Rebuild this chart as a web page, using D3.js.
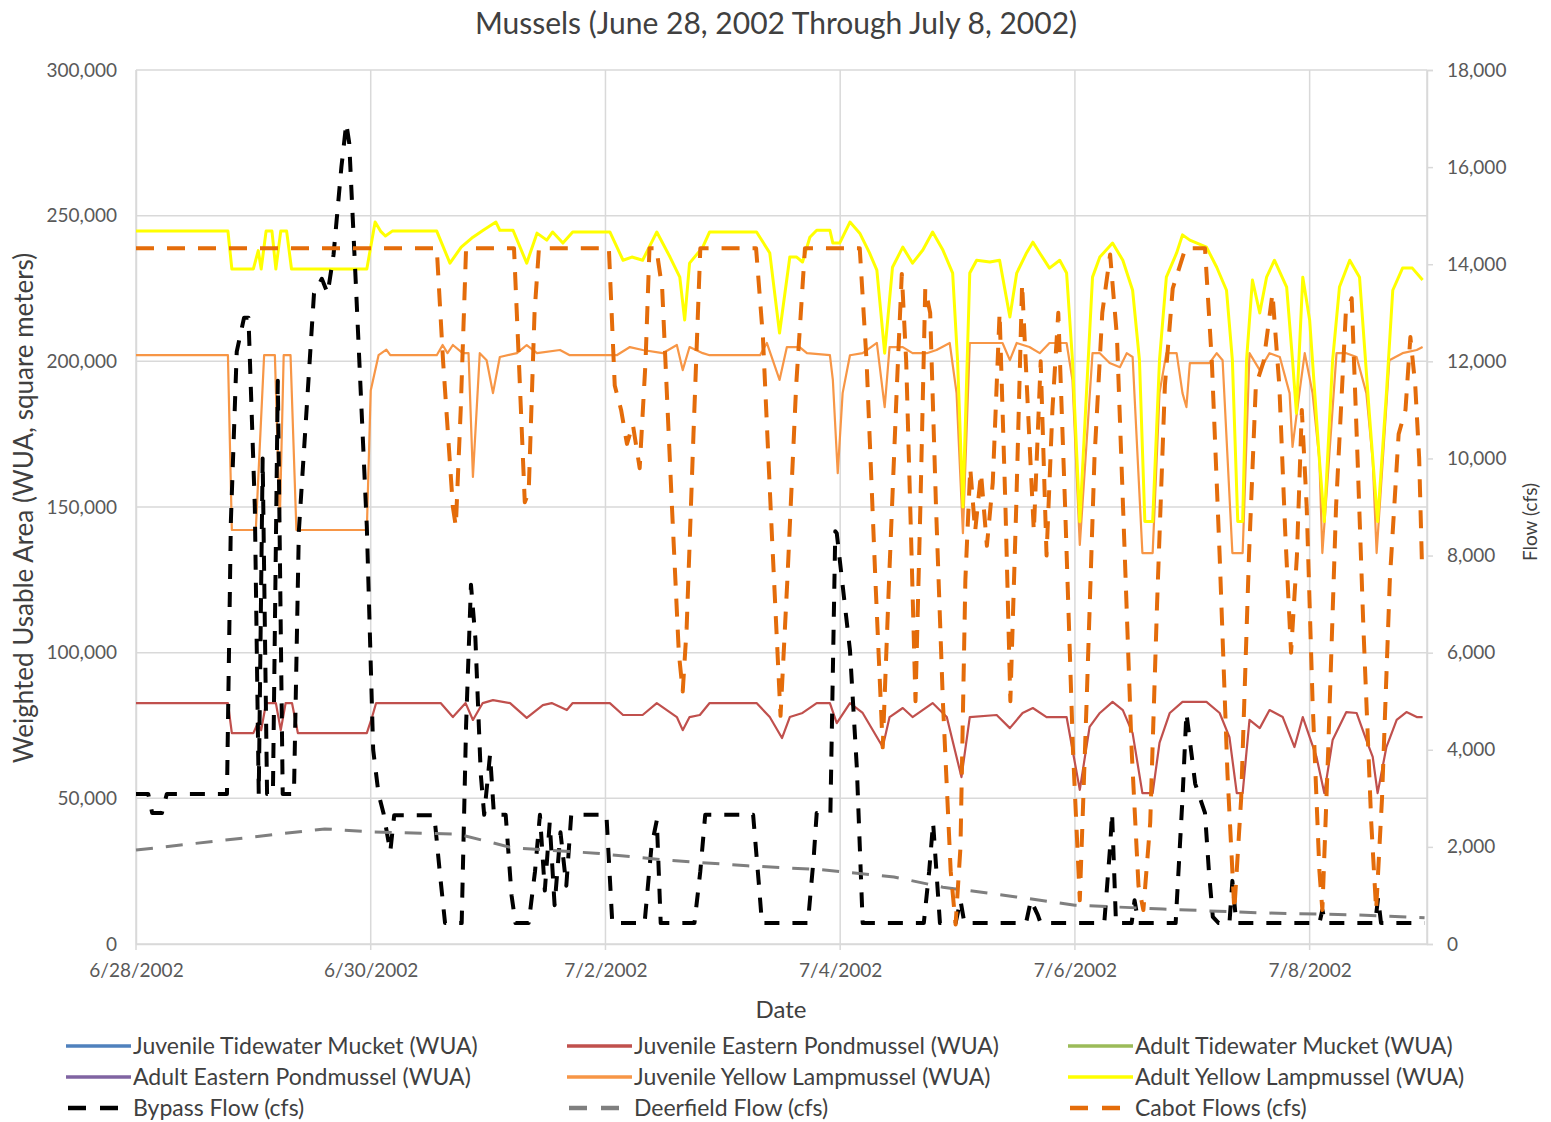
<!DOCTYPE html>
<html>
<head>
<meta charset="utf-8">
<script src="https://cdn.jsdelivr.net/npm/d3@7"></script>
<style>
  body { margin: 0; background: #fff; }
  text { font-family: Lato, "Open Sans", sans-serif; }
</style>
</head>
<body>
<div id="chart"></div>
<script>
// every series: [hours since 6/28/2002 00:00, value]
const adultYellowWUA = [[0,244700],[18.8,244700],[19.6,231700],[24.0,231700],[25.0,238000],[25.6,231700],[26.6,244700],[27.8,244700],[28.6,231700],[29.6,244700],[30.8,244700],[31.8,231700],[47.2,231700],[48.9,247800],[50.0,244700],[51.0,243000],[52.4,244700],[61.5,244700],[64.2,233700],[66.5,239200],[68.9,242600],[71.0,245000],[73.6,247800],[74.4,245000],[77.1,245000],[79.9,233700],[82.0,244000],[84.0,241600],[85.2,244400],[87.3,240600],[89.3,244400],[96.9,244400],[99.6,234700],[101.4,235800],[103.6,234700],[106.5,244400],[109.2,235800],[111.2,228900],[112.2,214200],[113.2,233700],[115.9,239200],[117.3,244400],[126.9,244400],[129.6,237200],[131.6,209700],[133.7,235800],[135.1,235800],[136.3,234100],[137.8,242600],[139.2,245000],[141.9,245000],[142.5,240600],[143.9,240600],[146.0,247800],[148.0,244000],[150.0,237200],[151.5,231300],[153.1,202800],[154.7,232300],[156.8,239200],[158.8,233700],[160.9,238200],[162.9,244400],[165.0,238200],[167.0,230300],[168.0,200400],[169.1,150000],[170.5,230300],[171.9,234700],[174.6,234100],[176.6,234700],[178.7,215200],[180.1,230300],[182.1,237200],[183.4,240900],[184.8,237200],[186.8,232000],[188.9,234700],[190.3,230300],[191.5,200400],[193.0,145000],[195.6,228900],[197.1,235800],[199.7,240600],[201.8,234700],[203.8,224400],[205.2,200400],[206.3,145000],[207.9,145000],[209.3,200400],[210.7,228900],[212.8,237200],[214.0,243400],[215.5,241600],[218.9,239200],[221.0,232300],[223.0,224400],[224.2,200400],[225.3,145000],[226.3,145000],[227.1,200400],[228.3,227900],[229.8,216600],[231.2,228900],[232.8,234700],[235.3,225500],[236.5,200400],[237.3,182200],[238.6,228900],[240.0,214200],[242.0,166100],[243.0,145000],[244.7,200400],[246.1,225500],[248.2,234700],[250.2,228900],[252.2,182200],[253.9,145000],[255.7,189000],[257.0,224400],[259.0,232000],[261.0,232000],[263.1,227900]];

const juvYellowWUA = [[0,202100],[18.8,202100],[19.6,142100],[24.5,142100],[26.2,202100],[28.4,202100],[29.4,145000],[30.2,202100],[31.6,202100],[32.8,142100],[47.2,142100],[48.0,190000],[49.6,202100],[51.2,204000],[52.0,202100],[61.5,202100],[62.7,205600],[63.7,202800],[64.8,205600],[66.8,202800],[68.0,202800],[68.9,160300],[70.3,202800],[71.7,200400],[73.0,189100],[74.4,201500],[77.9,202800],[79.9,205600],[82.0,202800],[86.7,203900],[88.7,202100],[98.3,202100],[101.0,204900],[103.6,203900],[107.7,202800],[110.6,205600],[111.8,197000],[113.2,204900],[115.9,202800],[117.3,202100],[127.6,202100],[129.0,206300],[131.6,193600],[133.1,204900],[135.7,204900],[137.2,202800],[141.9,202100],[142.5,193600],[143.5,161600],[144.5,189100],[146.0,202100],[148.6,202800],[151.5,206300],[153.1,184300],[154.1,204900],[156.8,204900],[158.8,202800],[161.7,202800],[163.7,203900],[166.4,206300],[167.8,189100],[169.1,141000],[170.5,206300],[177.2,206300],[178.7,200400],[180.1,206300],[182.7,204900],[184.8,202800],[186.8,206300],[190.3,206300],[191.5,193600],[193.0,137000],[195.6,202800],[197.1,202800],[199.1,199400],[201.2,198000],[202.6,202800],[203.8,201500],[205.8,134200],[207.9,134200],[209.3,189100],[210.7,202800],[212.8,202800],[214.0,189100],[214.8,184300],[215.5,199400],[219.5,199400],[221.0,202800],[222.2,200400],[224.2,134200],[226.3,134200],[227.7,202800],[229.8,197000],[231.8,202800],[233.9,201500],[235.9,189100],[236.5,170600],[237.9,189100],[239.0,202800],[240.6,189100],[242.0,166100],[242.6,134200],[245.5,202800],[247.5,202800],[249.6,201500],[251.6,189100],[252.9,166100],[253.7,134200],[256.3,200400],[259.0,202800],[261.9,203900],[263.1,204900]];

const juvEasternWUA = [[0,82700],[18.8,82700],[19.6,72400],[24.0,72400],[24.9,75800],[25.6,73400],[26.6,82700],[28.6,82700],[29.6,73400],[30.6,82700],[31.9,82700],[33.1,72400],[47.2,72400],[48.3,78000],[49.1,82700],[62.3,82700],[64.8,77900],[67.4,82700],[68.9,76900],[70.9,82700],[73.0,83700],[76.5,82700],[79.9,77600],[83.2,82000],[85.0,82700],[88.1,80300],[89.3,82700],[96.9,82700],[99.6,78600],[103.6,78600],[106.5,82700],[110.6,77900],[111.8,73400],[113.2,77900],[115.3,78600],[117.3,82700],[126.9,82700],[129.6,77900],[132.1,70700],[133.7,77900],[136.3,79300],[139.2,82700],[141.9,82700],[143.3,75800],[146.0,82700],[148.6,79300],[152.7,67600],[154.1,77900],[156.8,81000],[158.8,77900],[162.9,82700],[165.8,77900],[168.8,57300],[170.5,77900],[176.0,78600],[178.7,74100],[181.3,79300],[183.4,81000],[186.2,77900],[190.3,77900],[193.0,52900],[195.0,74500],[197.1,79300],[199.7,83100],[201.8,80300],[203.8,72400],[205.8,51800],[207.9,51800],[209.3,69000],[211.4,79300],[214.0,83100],[218.9,83100],[221.6,79300],[223.6,71000],[225.1,51800],[226.3,51800],[227.7,76900],[229.8,74100],[231.8,80300],[234.5,77900],[236.9,67600],[238.6,77900],[241.4,64200],[243.0,51800],[244.7,70000],[247.5,79600],[249.6,79300],[251.6,70000],[252.9,64200],[253.9,51800],[255.7,67600],[257.8,76900],[259.8,79600],[261.9,77900],[263.1,77900]];

const bypassFlow = [[0,3090],[2.5,3090],[3.3,2700],[5.3,2700],[6.3,3090],[18.6,3090],[19.4,8700],[20.6,12200],[22.1,12900],[23.0,12900],[24.3,9000],[25.1,3090],[25.9,10000],[26.8,3090],[28.0,3090],[29.0,11600],[30.0,3090],[32.3,3090],[33.3,8500],[36.4,13400],[38.0,13700],[39.2,13400],[40.4,14200],[42.0,16000],[43.0,16900],[43.6,16500],[45.0,13500],[47.2,8600],[48.5,4000],[49.6,3090],[50.6,2700],[52.0,1900],[52.8,2650],[61.0,2650],[62.1,1500],[63.2,430],[66.6,430],[67.5,4500],[68.5,7400],[69.4,6300],[70.5,3500],[71.2,2660],[72.4,3900],[73.2,2660],[75.6,2660],[76.8,1000],[77.6,430],[80.3,430],[81.6,1500],[82.6,2660],[83.6,1100],[84.6,2500],[85.6,800],[86.8,2300],[88.0,1200],[89.0,2660],[96.2,2660],[97.4,430],[104.0,430],[105.4,2000],[106.5,2550],[107.3,430],[114.2,430],[115.4,1500],[116.4,2660],[126.2,2660],[127.4,1200],[128.0,430],[137.4,430],[138.6,1800],[139.2,2700],[142.0,2700],[143.0,8500],[143.3,8460],[146.0,6050],[147.4,3640],[148.6,430],[161.1,430],[162.2,1500],[163.0,2500],[164.4,430],[167.6,430],[168.6,900],[169.4,430],[182.0,430],[183.0,900],[184.4,600],[185.0,430],[198.0,430],[199.2,2000],[199.6,2700],[200.4,430],[203.6,430],[204.2,900],[205.0,430],[212.6,430],[214.0,3000],[214.8,4760],[216.6,3300],[218.6,2700],[219.4,1500],[220.2,560],[221.4,430],[223.6,430],[224.2,1300],[225.0,430],[242.0,430],[242.6,700],[243.2,430],[253.4,430],[254.0,950],[254.6,430],[263.5,430]];

const deerfieldFlow = [[0,1935],[38.6,2370],[48,2310],[66,2260],[77,1980],[94,1870],[108,1730],[125,1610],[140,1530],[155,1380],[165,1170],[180,970],[192,800],[210,720],[230,640],[250,600],[263.5,540]];

const cabotFlows = [[0,14330],[61.5,14330],[62.8,12000],[64.8,9000],[65.4,8600],[66.4,11000],[67.5,14330],[77.3,14330],[78.3,12000],[79.5,9100],[80.3,9300],[81.5,13000],[82.4,14330],[96.7,14330],[97.9,11500],[99.2,11000],[100.4,10300],[101.6,10700],[103.0,9800],[104.2,12000],[105.0,14330],[106.4,14330],[107.6,13500],[109.6,9000],[111.0,6000],[111.8,5200],[112.6,6500],[114.0,10500],[115.4,14330],[126.8,14330],[128.2,12500],[130.0,8500],[131.8,4700],[133.2,7500],[135.0,11500],[136.8,14330],[148.0,14330],[149.4,12000],[151.2,7500],[152.7,4050],[154.0,7500],[155.6,11500],[156.6,13800],[157.5,12000],[158.6,8000],[159.4,5000],[160.4,9000],[161.4,13500],[162.4,13000],[163.6,9000],[165.0,5000],[166.6,1500],[167.6,400],[168.6,2000],[169.6,7500],[170.6,9800],[171.6,8500],[172.8,9700],[174.0,8200],[175.2,9500],[176.6,13000],[177.8,9000],[178.8,5000],[180.0,9000],[181.2,13600],[182.4,11000],[183.6,8500],[185.0,12000],[186.2,8000],[187.4,11000],[188.6,13000],[190.0,9000],[191.6,4000],[193.0,900],[194.4,5000],[196.0,10000],[197.6,13000],[199.2,14200],[200.6,12500],[202.2,8000],[203.6,4000],[205.0,1200],[206.0,700],[207.4,2500],[208.8,7000],[210.4,11500],[212.0,13500],[214.6,14330],[218.6,14330],[220.0,12000],[221.6,8000],[223.2,3500],[224.6,700],[226.0,3000],[227.6,8000],[229.0,11500],[230.6,12000],[232.4,13400],[233.8,11500],[235.0,8500],[236.2,6000],[237.4,8000],[238.4,11000],[239.4,9000],[240.6,5000],[242.0,1500],[242.6,700],[243.8,4000],[245.4,9000],[247.4,13000],[248.6,13300],[249.8,10000],[251.0,6500],[252.6,2500],[253.6,700],[254.8,3000],[256.4,7500],[258.2,10500],[259.6,11000],[260.6,12500],[261.6,11500],[262.4,10000],[263.0,7700]];

const dateTicks = ["6/28/2002", "6/30/2002", "7/2/2002", "7/4/2002", "7/6/2002", "7/8/2002"];
const wuaTicks = [0, 50000, 100000, 150000, 200000, 250000, 300000];
const flowTicks = [0, 2000, 4000, 6000, 8000, 10000, 12000, 14000, 16000, 18000];

const legendNames = [
  "Juvenile Tidewater Mucket (WUA)", "Juvenile Eastern Pondmussel (WUA)", "Adult Tidewater Mucket (WUA)",
  "Adult Eastern Pondmussel (WUA)", "Juvenile Yellow Lampmussel (WUA)", "Adult Yellow Lampmussel (WUA)",
  "Bypass Flow (cfs)", "Deerfield Flow (cfs)", "Cabot Flows (cfs)"
];
const legendColors = ["#4F81BD", "#C0504D", "#9BBB59", "#8064A2", "#F79646", "#FFFF00", "#000000", "#7F7F7F", "#E46C0A"];
const legendDashed = [false, false, false, false, false, false, true, true, true];

let t0 = new Date(2002, 5, 28);
let toDate = (h) => new Date(t0.getTime() + h * 3600000);
let parseDay = d3.timeParse("%m/%d/%Y");

const svg = d3.select("#chart").append("svg")
  .attr("width", 1551).attr("height", 1122)
  .style("background", "#fff");

let x = d3.scaleTime().domain([t0, new Date(2002, 6, 9)]).range([136, 1427]);
let yL = d3.scaleLinear().domain([0, 300000]).range([944, 70]);
let yR = d3.scaleLinear().domain([0, 18000]).range([944, 70]);

const gridColor = "#D9D9D9";
const labelColor = "#595959";
const titleColor = "#404040";

// gridlines
svg.append("g").selectAll("line").data(wuaTicks).join("line")
  .attr("x1", 136).attr("x2", 1427)
  .attr("y1", (d) => yL(d)).attr("y2", (d) => yL(d))
  .attr("stroke", gridColor).attr("stroke-width", 1.5);

svg.append("g").selectAll("line").data(dateTicks).join("line")
  .attr("x1", (d) => x(parseDay(d))).attr("x2", (d) => x(parseDay(d)))
  .attr("y1", 70).attr("y2", 950)
  .attr("stroke", gridColor).attr("stroke-width", 1.5);

svg.append("line").attr("x1", 1427).attr("x2", 1427).attr("y1", 70).attr("y2", 944)
  .attr("stroke", gridColor).attr("stroke-width", 1.5);

// left axis
let leftAxis = svg.append("g")
  .attr("transform", "translate(136,0)")
  .call(d3.axisLeft(yL).tickValues(wuaTicks).tickSize(0).tickPadding(19).tickFormat(d3.format(",")));
leftAxis.select(".domain").attr("stroke", gridColor).attr("stroke-width", 1.5);
leftAxis.selectAll("text").attr("fill", labelColor).style("font-size", "19px").attr("font-family", null);

// right axis
let rightAxis = svg.append("g")
  .attr("transform", "translate(1427,0)")
  .call(d3.axisRight(yR).tickValues(flowTicks).tickSize(6).tickPadding(14).tickFormat(d3.format(",")));
rightAxis.select(".domain").attr("stroke", gridColor).attr("stroke-width", 1.5);
rightAxis.selectAll("line").attr("stroke", gridColor).attr("stroke-width", 1.5);
rightAxis.selectAll("text").attr("fill", labelColor).style("font-size", "19px").attr("font-family", null);

// bottom axis
let bottomAxis = svg.append("g")
  .attr("transform", "translate(0,944)")
  .call(d3.axisBottom(x).tickValues(dateTicks.map(parseDay)).tickSize(0).tickPadding(20)
    .tickFormat((d) => `${d.getMonth() + 1}/${d.getDate()}/${d.getFullYear()}`));
bottomAxis.select(".domain").attr("stroke", gridColor).attr("stroke-width", 1.5);
bottomAxis.selectAll("text").attr("fill", labelColor).style("font-size", "19px").attr("font-family", null);

// series lines
let lineL = d3.line().x((d) => x(toDate(d[0]))).y((d) => yL(d[1]));
let lineR = d3.line().x((d) => x(toDate(d[0]))).y((d) => yR(d[1]));

const plotted = [
  { data: juvEasternWUA, line: lineL, color: "#C0504D", width: 2.2, dash: null },
  { data: juvYellowWUA, line: lineL, color: "#F79646", width: 2.2, dash: null },
  { data: adultYellowWUA, line: lineL, color: "#FFFF00", width: 3, dash: null },
  { data: bypassFlow, line: lineR, color: "#000000", width: 4, dash: "15,13" },
  { data: deerfieldFlow, line: lineR, color: "#7F7F7F", width: 3, dash: "17,13" },
  { data: cabotFlows, line: lineR, color: "#E46C0A", width: 4, dash: "18,13" }
];

svg.append("g").selectAll("path").data(plotted).join("path")
  .attr("d", (s) => s.line(s.data))
  .attr("fill", "none")
  .attr("stroke", (s) => s.color)
  .attr("stroke-width", (s) => s.width)
  .attr("stroke-dasharray", (s) => s.dash)
  .attr("stroke-linejoin", "round");

// titles
svg.append("text")
  .attr("x", 776).attr("y", 34)
  .attr("text-anchor", "middle")
  .attr("fill", titleColor)
  .style("font-size", "30px")
  .text("Mussels (June 28, 2002 Through July 8, 2002)");

svg.append("text")
  .attr("transform", "translate(33,508) rotate(-90)")
  .attr("text-anchor", "middle")
  .attr("fill", titleColor)
  .style("font-size", "26px")
  .text("Weighted Usable Area (WUA, square meters)");

svg.append("text")
  .attr("transform", "translate(1537,522) rotate(-90)")
  .attr("text-anchor", "middle")
  .attr("fill", titleColor)
  .style("font-size", "19px")
  .text("Flow (cfs)");

svg.append("text")
  .attr("x", 781).attr("y", 1018)
  .attr("text-anchor", "middle")
  .attr("fill", titleColor)
  .style("font-size", "24px")
  .text("Date");

// legend
let colX = [66, 567, 1068];
let rowY = [1046, 1077, 1108];
let legend = svg.append("g").selectAll("g").data(legendNames).join("g")
  .attr("transform", (d, i) => `translate(${colX[i % 3]},${rowY[Math.floor(i / 3)]})`);

legend.append("line")
  .attr("x1", (d, i) => legendDashed[i] ? 2 : 0)
  .attr("x2", (d, i) => legendDashed[i] ? 52 : 65)
  .attr("y1", 0).attr("y2", 0)
  .attr("stroke", (d, i) => legendColors[i])
  .attr("stroke-width", (d, i) => legendDashed[i] ? 4.5 : 3.5)
  .attr("stroke-dasharray", (d, i) => legendDashed[i] ? "18,14" : null);

legend.append("text")
  .attr("x", 67).attr("y", 8)
  .attr("fill", titleColor)
  .style("font-size", "23px")
  .text((d) => d);
</script>
</body>
</html>
